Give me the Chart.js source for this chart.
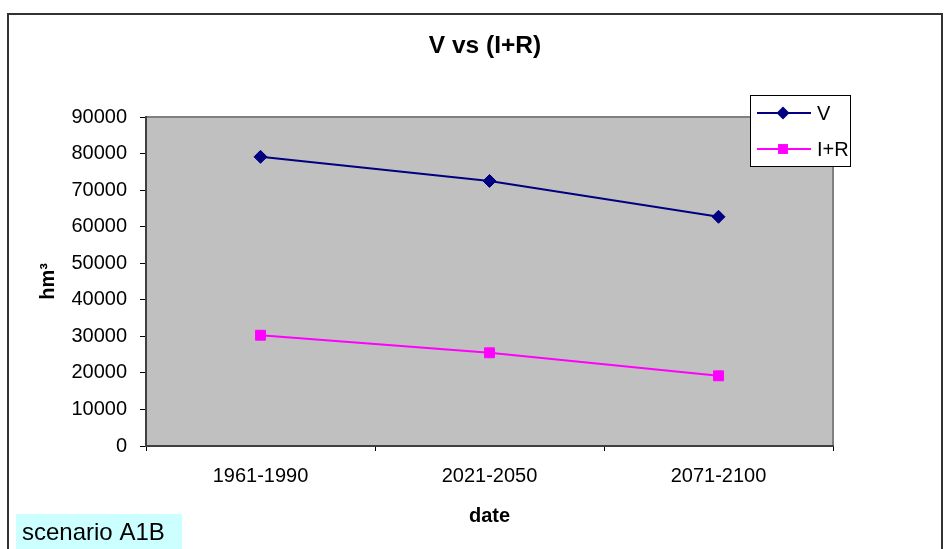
<!DOCTYPE html>
<html>
<head>
<meta charset="utf-8">
<script src="https://cdn.jsdelivr.net/npm/chart.js@4/dist/chart.umd.min.js"></script>
<style>
  html, body { margin: 0; padding: 0; background: #fff; }
  canvas { display: block; }
</style>
</head>
<body>
<canvas id="chart" width="944" height="549"></canvas>
<script>
const categories = ['1961-1990', '2021-2050', '2071-2100']
const vValues = [79100, 72500, 62700]
const irValues = [30300, 25500, 19200]
const seriesNames = ['V', 'I+R']
const chartTitle = 'V vs (I+R)'
const yTitle = 'hm³'
const xTitle = 'date'
const noteText = 'scenario A1B'

const FONT = '"Liberation Sans", Arial, sans-serif'

const decor = {
    id: 'decor',
    beforeDraw(chart) {
        const ctx = chart.ctx
        const a = chart.chartArea
        ctx.save()
        ctx.fillStyle = '#fff'
        ctx.fillRect(0, 0, chart.width, chart.height)
        ctx.strokeStyle = '#333'
        ctx.lineWidth = 2
        ctx.strokeRect(8, 14, 934, 600)
        ctx.fillStyle = '#c0c0c0'
        ctx.fillRect(a.left, a.top, a.right - a.left, a.bottom - a.top)
        ctx.strokeStyle = '#808080'
        ctx.lineWidth = 2
        ctx.beginPath()
        ctx.moveTo(a.left, a.top)
        ctx.lineTo(a.right, a.top)
        ctx.lineTo(a.right, a.bottom)
        ctx.stroke()
        ctx.restore()
    },
    afterDraw(chart) {
        const ctx = chart.ctx
        ctx.save()
        // title
        ctx.fillStyle = '#000'
        ctx.font = 'bold 24.5px ' + FONT
        ctx.textAlign = 'center'
        ctx.textBaseline = 'middle'
        ctx.fillText(chartTitle, 485, 46)

        // legend
        const lx = 750, ly = 95, lw = 101, lh = 72
        ctx.fillStyle = '#fff'
        ctx.fillRect(lx, ly, lw, lh)
        ctx.strokeStyle = '#000'
        ctx.lineWidth = 1
        ctx.strokeRect(lx + 0.5, ly + 0.5, lw - 1, lh - 1)
        chart.data.datasets.forEach((ds, i) => {
            const y = 113 + i * 36
            ctx.strokeStyle = ds.borderColor
            ctx.lineWidth = 2
            ctx.beginPath()
            ctx.moveTo(757, y)
            ctx.lineTo(811, y)
            ctx.stroke()
            ctx.fillStyle = ds.borderColor
            const r = ds.pointRadius
            ctx.beginPath()
            if (ds.pointStyle === 'rectRot') {
                ctx.moveTo(783, y - r)
                ctx.lineTo(783 + r, y)
                ctx.lineTo(783, y + r)
                ctx.lineTo(783 - r, y)
                ctx.closePath()
            } else {
                const s = r * Math.SQRT1_2
                ctx.rect(783 - s, y - s, 2 * s, 2 * s)
            }
            ctx.fill()
            ctx.fillStyle = '#000'
            ctx.font = '20px ' + FONT
            ctx.textAlign = 'left'
            ctx.fillText(ds.label, 817, y + 1)
        })

        // note box
        ctx.fillStyle = '#ccffff'
        ctx.fillRect(16, 514, 166, 40)
        ctx.fillStyle = '#000'
        ctx.font = '24px ' + FONT
        ctx.textAlign = 'left'
        ctx.textBaseline = 'alphabetic'
        ctx.fillText(noteText, 22, 540)
        ctx.restore()
    }
}

new Chart(document.getElementById('chart').getContext('2d'), {
    type: 'line',
    data: {
        labels: categories,
        datasets: [
            {
                label: seriesNames[0],
                data: vValues,
                borderColor: '#000080',
                backgroundColor: '#000080',
                borderWidth: 2,
                pointStyle: 'rectRot',
                pointRadius: 6.5,
                pointBorderWidth: 1,
                tension: 0
            },
            {
                label: seriesNames[1],
                data: irValues,
                borderColor: '#ff00ff',
                backgroundColor: '#ff00ff',
                borderWidth: 2,
                pointStyle: 'rect',
                pointRadius: 7,
                pointBorderWidth: 1,
                tension: 0
            }
        ]
    },
    options: {
        responsive: false,
        animation: false,
        devicePixelRatio: 1,
        layout: { padding: { top: 117, right: 111, left: 0, bottom: 0 } },
        plugins: {
            legend: { display: false },
            title: { display: false },
            tooltip: { enabled: false }
        },
        scales: {
            x: {
                offset: true,
                grid: { offset: true, drawOnChartArea: false, drawTicks: true, tickLength: 5, color: '#000' },
                border: { color: '#404040', width: 2 },
                ticks: { color: '#000', font: { family: FONT, size: 20 }, padding: 13, maxRotation: 0 },
                title: { display: true, text: xTitle, color: '#000', font: { family: FONT, size: 20, weight: 'bold' }, padding: { top: 0, bottom: 21 } },
                afterFit(scale) { scale.height = 103 }
            },
            y: {
                min: 0,
                max: 90000,
                ticks: {
                    stepSize: 10000,
                    color: '#000',
                    font: { family: FONT, size: 20 },
                    padding: 13,
                    callback: value => String(value)
                },
                grid: { drawOnChartArea: false, drawTicks: true, tickLength: 6, color: '#000' },
                border: { color: '#404040', width: 2 },
                title: { display: true, text: yTitle, color: '#000', font: { family: FONT, size: 20, weight: 'bold' }, padding: { top: 36, bottom: 0 } },
                afterFit(scale) { scale.width = 146 }
            }
        }
    },
    plugins: [decor]
})
</script>
</body>
</html>
